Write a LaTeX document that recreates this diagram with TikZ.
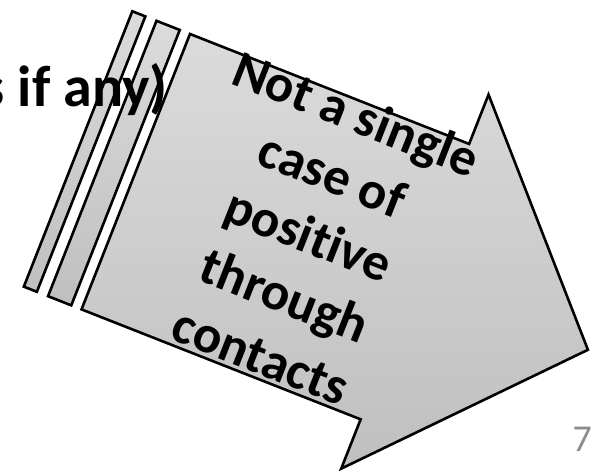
\documentclass[tikz,border=0pt]{standalone}
\usepackage{fontspec}
\setmainfont{Carlito}[Ligatures=NoCommon]
\usepackage{tikz}
\usetikzlibrary{positioning}

\begin{document}
\begin{tikzpicture}[x=1pt,y=1pt,
  stripe/.style={draw=black,line width=2.6pt,line join=miter,top color=gray!28,bottom color=gray!50},
  slidetext/.style={font=\bfseries\fontsize{58}{68}\selectfont,inner sep=0pt},
  arrowtext/.style={font=\bfseries\fontsize{53}{65}\selectfont,align=center,inner sep=0pt},
  pagenum/.style={font=\fontsize{38}{46}\selectfont,text=gray!90,inner sep=0pt}
]
\useasboundingbox (0,0) rectangle (597,471);
\begin{scope}[shift={(190,437)},rotate=-21.5]
  \coordinate (b1) at (0,0);
  \coordinate (b2) at (300,0);
  \coordinate (h1) at (300,53);
  \coordinate (tip) at (486,-148);
  \coordinate (h2) at (300,-349);
  \coordinate (b3) at (300,-296);
  \coordinate (b4) at (0,-296);
  \coordinate (sa1) at (-62,0);
  \coordinate (sa2) at (-48,0);
  \coordinate (sa3) at (-48,-296);
  \coordinate (sa4) at (-62,-296);
  \coordinate (sb1) at (-36,0);
  \coordinate (sb2) at (-11,0);
  \coordinate (sb3) at (-11,-296);
  \coordinate (sb4) at (-36,-296);
  \coordinate (mid) at (184,-143);
\end{scope}
\shade[stripe] (sa1) -- (sa2) -- (sa3) -- (sa4) -- cycle;
\shade[stripe] (sb1) -- (sb2) -- (sb3) -- (sb4) -- cycle;
\shade[stripe] (b1) -- (b2) -- (h1) -- (tip) -- (h2) -- (b3) -- (b4) -- cycle;
\node[slidetext,anchor=base east] (title) at (168,364) {s if any)};
\node[arrowtext,rotate=-21.5] (msg) at (mid) {Not a single\\case of\\positive\\through\\contacts};
\node[pagenum,anchor=base east] (num) at (592,19) {7};
\end{tikzpicture}
\end{document}
